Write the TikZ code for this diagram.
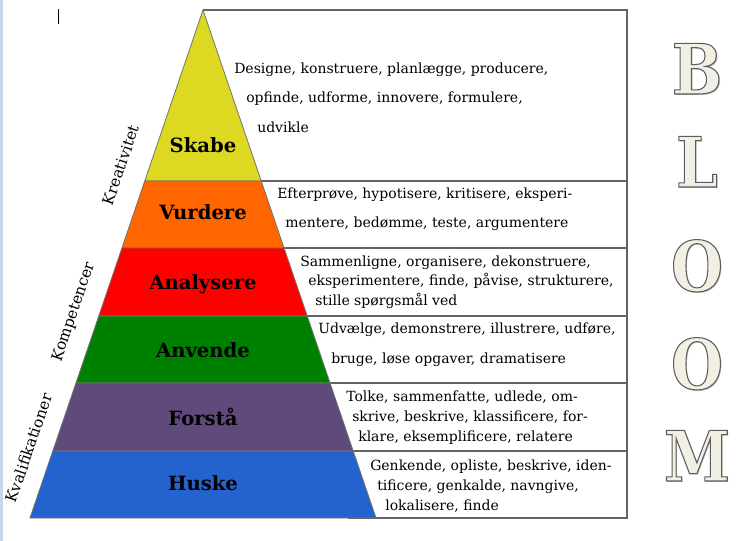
\documentclass[tikz,border=0pt]{standalone}
\usepackage{fontspec}
\setmainfont{DejaVu Serif}
\newfontfamily\bloomfont{DejaVu Serif}[FakeStretch=0.86]
\usetikzlibrary{positioning, calc}
\definecolor{skabeYellow}{RGB}{221, 217, 34}
\definecolor{vurdereOrange}{RGB}{255, 102, 0}
\definecolor{analysereRed}{RGB}{255, 0, 0}
\definecolor{anvendeGreen}{RGB}{0, 128, 0}
\definecolor{forstaaPurple}{RGB}{96, 74, 123}
\definecolor{huskeBlue}{RGB}{36, 98, 205}
\definecolor{tableGray}{RGB}{100, 100, 100}
\definecolor{edgeGray}{RGB}{115, 115, 115}
\definecolor{bloomCream}{RGB}{242, 240, 228}
\definecolor{bloomShadow}{RGB}{190, 190, 185}
\definecolor{pageBlue}{RGB}{200, 212, 232}
% filled letter with a grey stroke round it
\newcommand{\outlined}[1]{\special{pdf:literal direct 2 Tr 0.8 w 0.36 0.36 0.36 RG}#1\special{pdf:literal direct 0 Tr}}
\begin{document}
\begin{tikzpicture}[x=0.75pt, y=-0.75pt,
				lvl_fill/.style     = {draw=edgeGray, line width=0.6pt},
				lvl_label/.style    = {anchor=base, inner sep=0pt, text=black,
					font=\fontsize{14.7}{17}\selectfont\bfseries},
				verb_txt/.style     = {anchor=mid west, inner sep=0pt,
					font=\fontsize{10.5}{12}\selectfont},
				side_txt/.style     = {rotate=71.2, inner sep=0pt,
					font=\fontsize{11.5}{13}\selectfont},
				tbl_line/.style     = {draw=tableGray, line width=1.2pt},
				bloom_letter/.style = {anchor=base, inner sep=0pt, text=bloomCream,
					font=\bloomfont\fontsize{52}{52}\selectfont\bfseries}
				]
				\useasboundingbox (0,0) rectangle (752,541);
				\fill[pageBlue] (0,0) rectangle (3,541);
				\draw[line width=0.75pt] (58,9) -- (58,24);
				
				% table behind the pyramid
				\draw[tbl_line] (203,10) -- (627,10) -- (627,518) -- (348,518);
				\foreach \yy in {181,248,316,383,451}
				\draw[tbl_line] ({203+(\yy-10)*0.3406},\yy) -- (627,\yy);
				
				% pyramid layers
				\foreach \ya/\yb/\col in {10/181/skabeYellow, 181/248/vurdereOrange,
					248/316/analysereRed, 316/383/anvendeGreen,
					383/451/forstaaPurple, 451/518/huskeBlue}
				\filldraw[lvl_fill, fill=\col] ({203-(\ya-10)*0.3406},\ya) -- ({203+(\ya-10)*0.3406},\ya)
				-- ({203+(\yb-10)*0.3406},\yb) -- ({203-(\yb-10)*0.3406},\yb) -- cycle;
				
				\node[lvl_label] (skabe) at (203,153) {Skabe};
				\node[lvl_label] (vurdere) at (203,220) {Vurdere};
				\node[lvl_label] (analysere) at (203,290) {Analysere};
				\node[lvl_label] (anvende) at (203,357) {Anvende};
				\node[lvl_label] (forstaa) at (203,425) {Forstå};
				\node[lvl_label] (huske) at (203,490) {Huske};
				
				\node[side_txt] (kreativitet) at (121,165) {Kreativitet};
				\node[side_txt] (kompetencer) at (74,312) {Kompetencer};
				\node[side_txt] (kvalifikationer) at (29,448) {Kvalifikationer};
				
				% verbs per level
				\node[verb_txt] (skabe_v1) at (234,70) {Designe, konstruere, planlægge, producere,};
				\node[verb_txt] (skabe_v2) at (246,99) {opfinde, udforme, innovere, formulere,};
				\node[verb_txt] (skabe_v3) at (257,129) {udvikle};
				\node[verb_txt] (vurdere_v1) at (277,195) {Efterprøve, hypotisere, kritisere, eksperi-};
				\node[verb_txt] (vurdere_v2) at (285,224) {mentere, bedømme, teste, argumentere};
				\node[verb_txt] (analysere_v1) at (300,263) {Sammenligne, organisere, dekonstruere,};
				\node[verb_txt] (analysere_v2) at (308,282) {eksperimentere, finde, påvise, strukturere,};
				\node[verb_txt] (analysere_v3) at (315,302) {stille spørgsmål ved};
				\node[verb_txt] (anvende_v1) at (318,330) {Udvælge, demonstrere, illustrere, udføre,};
				\node[verb_txt] (anvende_v2) at (331,360) {bruge, løse opgaver, dramatisere};
				\node[verb_txt] (forstaa_v1) at (346,398) {Tolke, sammenfatte, udlede, om-};
				\node[verb_txt] (forstaa_v2) at (352,418) {skrive, beskrive, klassificere, for-};
				\node[verb_txt] (forstaa_v3) at (358,438) {klare, eksemplificere, relatere};
				\node[verb_txt] (huske_v1) at (370,467) {Genkende, opliste, beskrive, iden-};
				\node[verb_txt] (huske_v2) at (377,487) {tificere, genkalde, navngive,};
				\node[verb_txt] (huske_v3) at (385,507) {lokalisere, finde};
				
				% BLOOM with a soft shadow
				\foreach \lt/\yb [count=\i] in {B/94, L/187, O/291, O/389, M/481} {
					\node[bloom_letter, text=bloomShadow] (shadow_\i) at (698.5,\yb+1.5) {\lt};
					\node[bloom_letter] (bloom_\i) at (697,\yb) {\outlined{\lt}};
				}
			\end{tikzpicture}
\end{document}
